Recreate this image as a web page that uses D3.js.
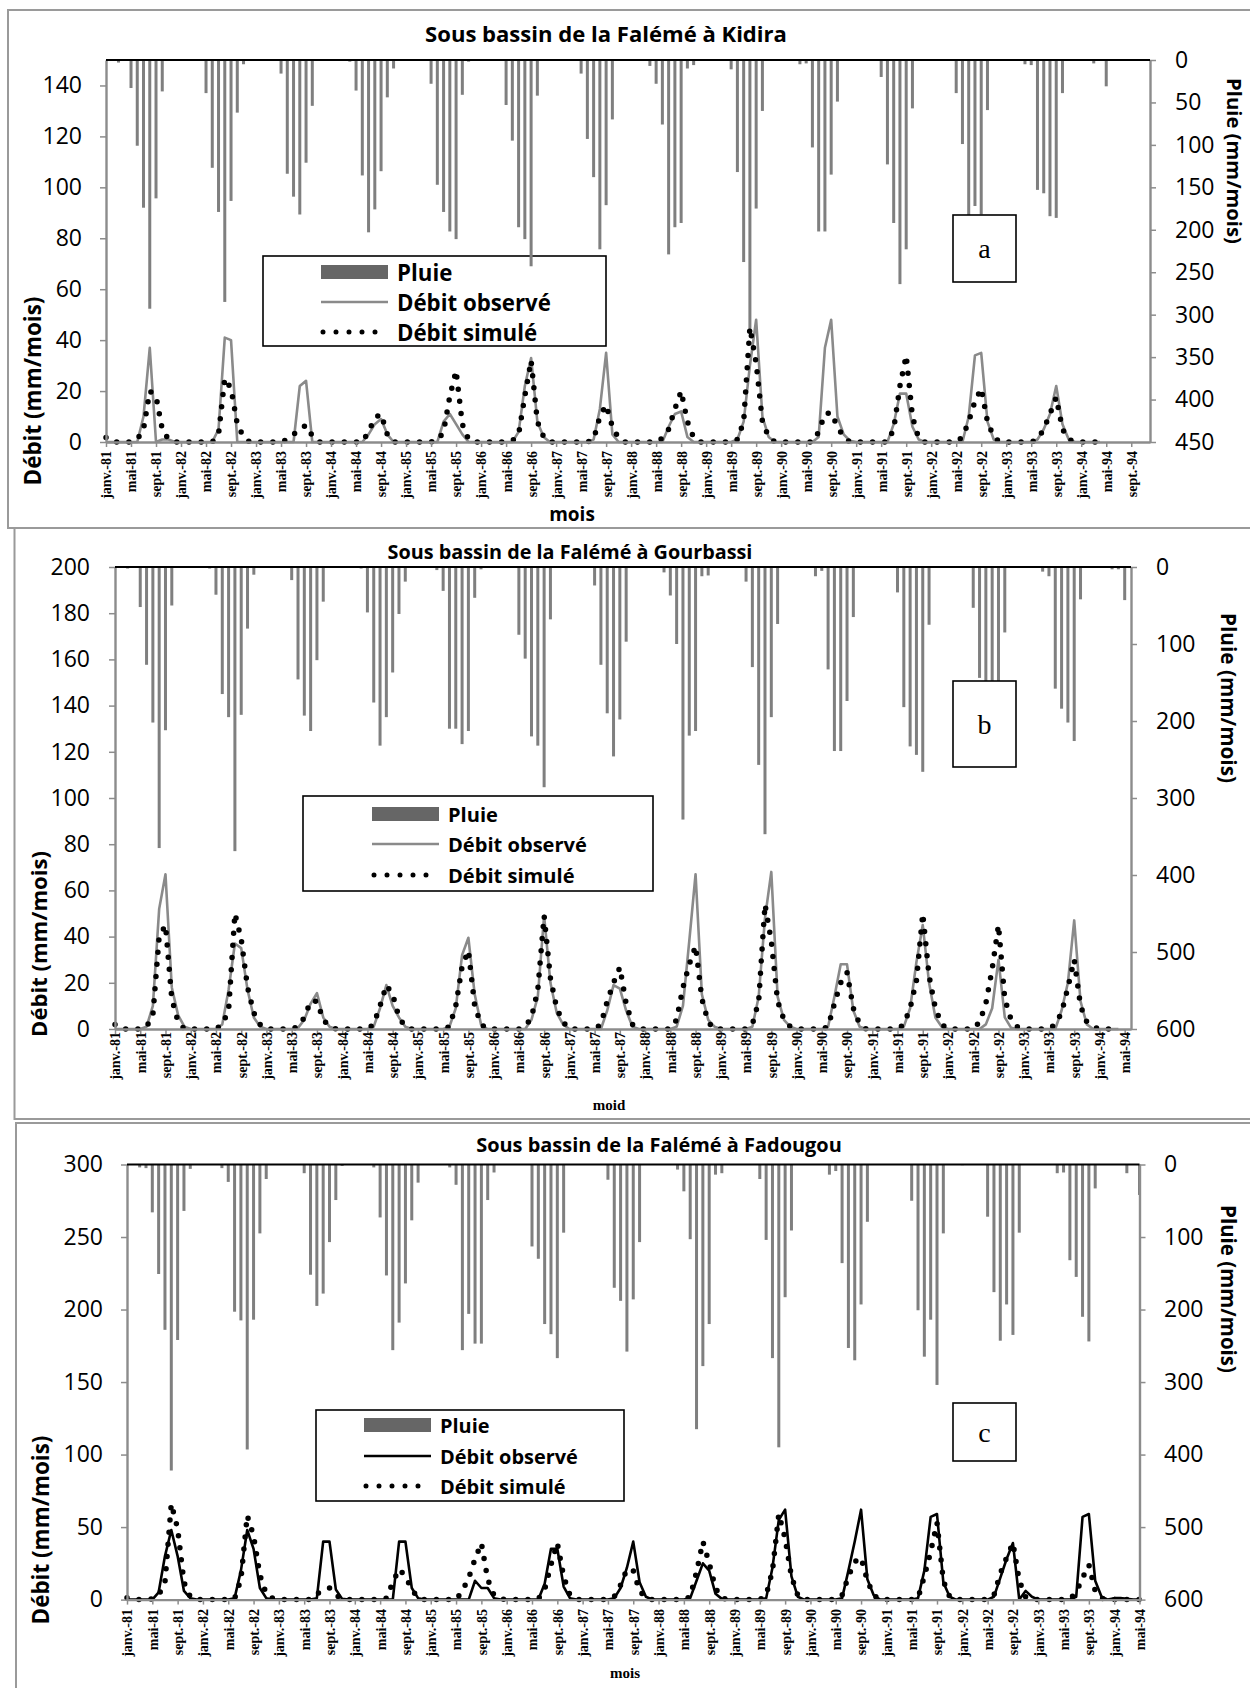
<!DOCTYPE html>
<html><head><meta charset="utf-8">
<script src="https://cdn.jsdelivr.net/npm/d3@7"></script>
<style>html,body{margin:0;padding:0;background:#fff}</style>
</head><body>
<svg id="chart" width="1250" height="1688"></svg>
<script>
// Month names used for the category labels (janv.-81, mai-81, sept.-81, ...)
const moisCourts = ["janv.","févr.","mars","avr.","mai","juin","juil.","août","sept.","oct.","nov.","déc."];
const anneeDebut = 1981;

// ---- Falémé à Kidira (mm/mois), janvier 1981 onwards ----
const kidiraPluie = [
  0,0,3,0,33,101,174,293,163,37,0,0,     // 1981
  0,0,0,1,39,127,179,285,166,62,5,0,     // 1982
  0,0,0,0,16,134,161,182,121,54,0,0,     // 1983
  0,0,0,2,36,136,203,176,131,44,10,0,    // 1984
  0,0,0,0,28,147,179,202,211,41,2,0,     // 1985
  0,0,0,0,53,95,197,211,243,42,0,0,      // 1986
  0,0,0,0,16,93,138,223,171,70,0,0,      // 1987
  0,0,0,7,28,76,229,197,192,10,6,0,      // 1988
  0,0,0,0,11,132,238,320,175,60,0,0,     // 1989
  0,0,0,5,4,103,202,202,135,49,0,0,      // 1990
  0,0,0,0,20,123,192,264,223,57,0,0,     // 1991
  0,0,0,0,39,99,215,172,182,59,0,0,      // 1992
  0,0,0,5,6,153,157,184,186,39,0,0,      // 1993
  0,0,4,0,31                             // 1994
];
const kidiraObserve = [
  0,0,0,0,0,0,10,37,0,1,1,0,
  0,0,0,0,0,0,5,41,40,0,0,0,
  0,0,0,0,0,0,0,22,24,0,0,0,
  0,0,0,0,0,0,3,7,9,3,0,0,
  0,0,0,0,0,0,8,11,7,3,0,0,
  0,0,0,0,0,0,4,22,33,8,2,0,
  0,0,0,0,0,0,1,13,35,3,0,0,
  0,0,0,0,0,0,6,11,12,2,0,0,
  0,0,0,0,0,1,8,30,48,10,2,0,
  0,0,0,0,0,0,2,37,48,10,3,0.5,
  0,0,0,0,0,0,7,19,19,6,1,0,
  0,0,0,0,0,0,10,34,35,8,1,0,
  0,0,0,0,0,1,5,11,22,7,1,0,
  0,0,0,0
];
const kidiraSimule = [
  1.8,0,0,0,0,1,5,20,18,5,1,0,
  0,0,0,0,0,0,3,25,21,7,2,0,
  0,0,0,0,0,1,3,5,6.6,2.4,0,0,
  0,0,0,0,0,0,4,9.5,11,3,0,0,
  0,0,0,0,0,0.5,4,18,28,7,1,0,
  0,0,0,0,0,0.5,3,18,32,8,2,0,
  0,0,0,0,0,0,1,10,14.5,6,1.5,0,
  0,0,0,0,0,1.5,5,13,20,8,1.7,0,
  0,0,0,0,0,1,8,45,31,8,2,0,
  0,0,0,0,0,0,4,11,11.5,6,2,0,
  0,0,0,0,0,0,5,22,34,10,1.5,0,
  0,0,0,0,0,2,8,16,21,8,2,0,
  0,0,0,0,0,1,5,11,17.5,5,1,0,
  0,0,0,0
];

// ---- Falémé à Gourbassi ----
const gourbassiPluie = [
  0,0,2,1,52,127,202,365,212,50,1,0,
  0,0,0,2,36,165,195,369,192,80,10,0,
  0,0,0,0,17,146,193,213,121,45,0,0,
  0,0,0,2,59,176,232,195,137,61,19,0,
  0,0,0,4,31,210,210,230,213,40,3,0,
  0,0,0,0,88,119,220,232,286,68,0,0,
  0,0,0,0,24,127,190,246,198,97,0,0,
  0,0,0,7,37,100,328,219,213,12,11,0,
  0,0,0,0,19,130,257,347,195,74,0,0,
  0,0,0,12,5,133,239,239,174,65,0,0,
  0,0,0,0,33,182,233,244,266,75,0,0,
  0,0,0,1,53,144,200,230,210,85,0,0,
  0,0,0,6,12,158,184,202,226,42,0,0,
  0,0,3,3,43
];
const gourbassiObserve = [
  0,0,0,0,0,1,10,52,67,18,6,1,
  0,0,0,0,0,2,17,37,35,17,5,1,
  0,0,0,0,0,0.5,4,11,15.5,5,1,0,
  0,0,0,0,0,1,9,19,10,5,1,0,
  0,0,0,0,0,1,9,32,39.5,15,2,0,
  0,0,0,0,0,0,4,14,49,20,7,2,
  0,0,0,0,0,0,8,19,17.5,8,1,0,
  0,0,0,0,0,1,10,38,67,15,4,1,
  0,0,0,0,0,1,14,48,68,14,4,1,
  0,0,0,0,0,1,14,28,28,8,1,0,
  0,0,0,0,0,1,9,29,45,20,5,1,
  0,0,0,0,0,0,2,9,30,5,0.5,0,
  0,0,0,0,0,0,8,20,47,12,2,0,
  0,0,0,0
];
const gourbassiSimule = [
  2,0,0,0,0,1,6,40,45,13,3,0,
  0,0,0,0,0,2,8,50,39,18,7,2,
  0,0,0,0,0,1,5,12,12,4,1,0,
  0,0,0,0,0,2,10,19,15,5,1,0,
  0,0,0,0,0,1,10,27,34,10,2,0,
  0,0,0,0,0,1,5,17,49,22,9,3,
  0,0,0,0,0,2,12,20,26.7,11,2,0,
  0,0,0,0,0,4,18,28,36,13,3,0,
  0,0,0,0,0,2,12,54,38,12,4,1,
  0,0,0,0,0,1,11,20,24.5,9,2,0,
  0,0,0,0,0,2,9,21,50,23,9,2,
  0,0,0,0,0,3,11,26,45,13,4,1,
  0,0,0,0,0,2,7,18,30,10,3,1,
  0,0,0,0
];

// ---- Falémé à Fadougou ----
const fadougouPluie = [
  0,0,4,5,66,151,228,422,242,64,6,0,
  0,0,0,5,24,203,215,393,214,95,20,0,
  0,0,0,0,12,152,195,178,107,49,2,0,
  0,0,0,4,73,153,256,218,164,77,25,0,
  0,0,0,4,28,256,206,247,247,49,11,0,
  0,0,0,0,113,130,220,234,267,94,0,0,
  0,0,0,0,21,170,188,258,186,107,0,0,
  0,0,0,7,37,103,365,278,220,14,12,0,
  0,0,0,0,20,104,267,390,183,91,0,0,
  0,0,0,14,9,136,253,270,193,79,0,0,
  0,0,0,0,50,201,265,214,304,95,0,0,
  1,0,0,0,72,176,243,193,235,94,0,0,
  0,0,0,12,11,132,155,210,244,33,0,0,
  0,0,12,0,42
];
const fadougouObserve = [
  0,0,0,0,0,5,30,48,30,6,1,0,
  0,0,0,0,0,1,20,48,35,8,1,0,
  0,0,0,0,0,0,1,40,40,7,0.5,0,
  0,0,0,0,0,0,0,40,40,8,1,0,
  0,0,0,0,0,0,0,13,8,8,1,0,
  0,0,0,0,0,0,11,35,35,9,1,0,
  0,0,0,0,0,1,8,22,40,12,2,0,
  0,0,0,0,0,1,13,25,20,4,0.5,0,
  0,0,0,0,0,1,22,55,62,16,2,0,
  0,0,0,0,0,1,20,40,62,14,3,0,
  0,0,0,0,0,1,20,57,59,12,2,0,
  0,0,0,0,0,2,15,28,39,0,6,2,
  0,0,0,0,0,0,2,57,59,13,2,0,
  1,1,0.5,0,0
];
const fadougouSimule = [
  1.3,0,0,0,0.5,3,12,66,49,12,2,0,
  0,0,0,0,0,0.5,14,58,44,17,4,1,
  0,0,0,0,0,0,4,6,8,3,0.5,0,
  0,0,0,0,0,1,12,21,16,7,1,0,
  0,0,0,0,0,6,15,28,39,14,3,0.5,
  0,0,0,0,0,0.5,7,24,39,16,3,0,
  0,0,0,0,0,2,10,21,20,6,1,0,
  0,0,0,0,0,2,19,40,25,8,1,0,
  0,0,0,0,0,3,20,59,42,16,3,0,
  0,0,0,0,0,3,16,26,29,13,3,0,
  0,0,0,0,0,1,16,33,53,13,2,0,
  0,0,0,0,0,3,18,29,39,13,2,0,
  0,0,0,0,0,0.5,5,15,24,6,1,0,
  0,0,0,0,0
];

const legendLabels = ["Pluie", "Débit observé", "Débit simulé"];

const SANS = "'Open Sans', Lato, sans-serif";
const SERIF = "'Liberation Serif', 'Times New Roman', serif";
const GRIS_AXE = "#8c8c8c";
const GRIS_BARRE = "#7f7f7f";

const svg = d3.select("#chart");
svg.append("rect").attr("width",1250).attr("height",1688).attr("fill","#fff");

function moisLabels(n) {
  return d3.range(n).map(i => moisCourts[i % 12] + "-" +
    String((anneeDebut + Math.floor(i / 12)) % 100).padStart(2, "0"));
}

// sets the font size so that the rendered text spans `width` pixels
function fitWidth(sel, width) {
  const w = sel.node().getComputedTextLength();
  const fs = parseFloat(sel.style("font-size"));
  const size = fs * width / w;
  sel.style("font-size", size + "px");
  return size;
}

function drawPanel(p) {
  const g = svg.append("g");
  const cats = moisLabels(p.nCats);
  const x = d3.scalePoint().domain(cats).range([p.plot.l, p.plot.r]);
  const yQ = d3.scaleLinear().domain([0, p.qMax]).range([p.plot.b, p.plot.t]);
  const yP = d3.scaleLinear().domain([0, p.pMax]).range([p.plot.t, p.plot.b]);

  // outer frame
  g.append("rect").attr("x", p.frame.x).attr("y", p.frame.y)
    .attr("width", 1270 - p.frame.x).attr("height", p.frame.h)
    .attr("fill", "none").attr("stroke", "#9a9a9a").attr("stroke-width", 2);

  // title
  const t = g.append("text").attr("x", p.title.x).attr("y", p.title.y)
    .attr("text-anchor", "middle").attr("dominant-baseline", "central")
    .style("font-family", SANS).style("font-weight", 700).style("font-size", "20px")
    .text(p.title.text);
  fitWidth(t, p.title.w);

  // legend
  const L = p.legend;
  const lg = g.append("g");
  lg.append("rect").attr("x", L.x).attr("y", L.y).attr("width", L.w).attr("height", L.h)
    .attr("fill", "#fff").attr("stroke", "#000").attr("stroke-width", 1.6);
  lg.append("rect").attr("x", L.sx).attr("y", L.rows[0] - 7).attr("width", 67).attr("height", 14)
    .attr("fill", "#666");
  lg.append("line").attr("x1", L.sx).attr("x2", L.sx + 67).attr("y1", L.rows[1]).attr("y2", L.rows[1])
    .attr("stroke", p.obsColor).attr("stroke-width", 2.6);
  lg.append("line").attr("x1", L.sx + 2).attr("x2", L.sx + 2 + 5 * 13).attr("y1", L.rows[2]).attr("y2", L.rows[2])
    .attr("stroke", "#000").attr("stroke-width", 5).attr("stroke-linecap", "round")
    .attr("stroke-dasharray", "0 13");
  const lt = lg.selectAll("text.leg").data(legendLabels).join("text").attr("class", "leg")
    .attr("x", L.tx).attr("y", (d, i) => L.rows[i]).attr("dominant-baseline", "central")
    .style("font-family", SANS).style("font-weight", 700).style("font-size", "20px")
    .text(d => d);
  const ls = fitWidth(lt.filter((d, i) => i === 1), L.textW);
  lt.style("font-size", ls + "px");

  // rain bars hanging from the top axis
  g.append("g").selectAll("rect").data(p.pluie).join("rect")
    .attr("x", (d, i) => x(cats[i]) - 1.5).attr("width", 3)
    .attr("y", yP(0)).attr("height", d => yP(d) - yP(0))
    .attr("fill", GRIS_BARRE);

  const line = d3.line().x((d, i) => x(cats[i])).y(d => yQ(d));
  g.append("path").datum(p.obs).attr("d", line).attr("fill", "none")
    .attr("stroke", p.obsColor).attr("stroke-width", 2.6).attr("stroke-linejoin", "round");
  g.append("path").datum(p.sim).attr("d", line).attr("fill", "none")
    .attr("stroke", "#000").attr("stroke-width", 5.5).attr("stroke-linecap", "round")
    .attr("stroke-dasharray", "0 12.2");

  // left axis (débit)
  const axL = g.append("g").attr("transform", `translate(${p.plot.l},0)`)
    .call(d3.axisLeft(yQ).tickValues(d3.range(0, p.qMax + 1, p.qStep)).tickSizeInner(6).tickSizeOuter(0)
      .tickPadding(p.plot.l - p.leftLabelX - 6).tickFormat(d3.format("d")));
  // right axis (pluie, reversed)
  const axR = g.append("g").attr("transform", `translate(${p.plot.r},0)`)
    .call(d3.axisRight(yP).tickValues(d3.range(0, p.pMax + 1, p.pStep)).tickSizeInner(6).tickSizeOuter(0)
      .tickPadding(p.rightLabelX - p.plot.r - 6).tickFormat(d3.format("d")));
  [axL, axR].forEach(a => {
    a.select(".domain").attr("stroke", GRIS_AXE).attr("stroke-width", 2.4);
    a.selectAll(".tick line").attr("stroke", GRIS_AXE).attr("stroke-width", 1.5);
    a.selectAll(".tick text").style("font-family", SANS).style("font-size", "23px").attr("fill", "#000");
  });

  // bottom category axis
  const shown = cats.filter((d, i) => i % 4 === 0 && i <= p.lastLabel);
  const axB = g.append("g").attr("transform", `translate(0,${p.plot.b})`)
    .call(d3.axisBottom(x).tickValues(shown).tickSizeInner(5).tickSizeOuter(0));
  axB.select(".domain").attr("stroke", GRIS_AXE).attr("stroke-width", 2.4);
  axB.selectAll(".tick line").attr("stroke", GRIS_AXE).attr("stroke-width", 1.5);
  axB.selectAll(".tick text")
    .attr("transform", "rotate(-90)").attr("x", -(p.xLabTop - p.plot.b)).attr("y", 0).attr("dy", "0.35em")
    .style("text-anchor", "end").style("font-family", SERIF).style("font-weight", 700)
    .style("font-size", "14px").attr("fill", "#000");

  // top axis line of the rain series
  g.append("line").attr("x1", p.plot.l).attr("x2", p.plot.r).attr("y1", p.plot.t).attr("y2", p.plot.t)
    .attr("stroke", "#000").attr("stroke-width", 2);

  // axis titles
  const yt = g.append("text").attr("transform", `translate(${p.yTitle.x},${p.yTitle.y}) rotate(-90)`)
    .attr("text-anchor", "middle").attr("dominant-baseline", "central")
    .style("font-family", SANS).style("font-weight", 700).style("font-size", "22px")
    .text("Débit (mm/mois)");
  fitWidth(yt, p.yTitle.w);
  const rt = g.append("text").attr("transform", `translate(${p.rTitle.x},${p.rTitle.y}) rotate(90)`)
    .attr("text-anchor", "middle").attr("dominant-baseline", "central")
    .style("font-family", SANS).style("font-weight", 700).style("font-size", "22px")
    .text("Pluie (mm/mois)");
  fitWidth(rt, p.rTitle.w);
  g.append("text").attr("x", p.xTitle.x).attr("y", p.xTitle.y)
    .attr("text-anchor", "middle").attr("dominant-baseline", "central")
    .style("font-family", p.xTitle.font).style("font-weight", 700).style("font-size", p.xTitle.size + "px")
    .text(p.xTitle.text);

  // panel letter
  const B = p.box;
  g.append("rect").attr("x", B.x).attr("y", B.y).attr("width", B.w).attr("height", B.h)
    .attr("fill", "#fff").attr("stroke", "#000").attr("stroke-width", 1.6);
  g.append("text").attr("x", B.x + B.w / 2).attr("y", B.y + B.h / 2)
    .attr("text-anchor", "middle").attr("dominant-baseline", "central")
    .style("font-family", SERIF).style("font-size", "28px").text(B.letter);
}

drawPanel({
  frame: {x: 8, y: 10, h: 518},
  title: {x: 606, y: 33, w: 362, text: "Sous bassin de la Falémé à Kidira"},
  plot: {l: 106, r: 1150, t: 60, b: 442},
  nCats: 168, lastLabel: 164,
  qMax: 150, qStep: 20, pMax: 450, pStep: 50,
  leftLabelX: 82, rightLabelX: 1175, xLabTop: 451,
  yTitle: {x: 32, y: 391, w: 189}, rTitle: {x: 1235, y: 161, w: 166},
  xTitle: {x: 572, y: 514, text: "mois", font: SANS, size: 19},
  legend: {x: 263, y: 256, w: 343, h: 90, sx: 321, tx: 397, textW: 154, rows: [272, 302, 332]},
  box: {x: 953, y: 215, w: 63, h: 67, letter: "a"},
  obsColor: "#8a8a8a",
  pluie: kidiraPluie, obs: kidiraObserve, sim: kidiraSimule
});

drawPanel({
  frame: {x: 14.5, y: 528, h: 591},
  title: {x: 570, y: 551, w: 365, text: "Sous bassin de la Falémé à Gourbassi"},
  plot: {l: 115, r: 1131, t: 567, b: 1029},
  nCats: 162, lastLabel: 160,
  qMax: 200, qStep: 20, pMax: 600, pStep: 100,
  leftLabelX: 90, rightLabelX: 1156, xLabTop: 1032,
  yTitle: {x: 38, y: 944, w: 186}, rTitle: {x: 1229, y: 698, w: 170},
  xTitle: {x: 609, y: 1105, text: "moid", font: SERIF, size: 15},
  legend: {x: 303, y: 796, w: 350, h: 95, sx: 372, tx: 448, textW: 139, rows: [814, 844, 875]},
  box: {x: 953, y: 681, w: 63, h: 86, letter: "b"},
  obsColor: "#8a8a8a",
  pluie: gourbassiPluie, obs: gourbassiObserve, sim: gourbassiSimule
});

drawPanel({
  frame: {x: 16, y: 1123, h: 580},
  title: {x: 659, y: 1144, w: 366, text: "Sous bassin de la Falémé à Fadougou"},
  plot: {l: 127, r: 1139.5, t: 1164.5, b: 1599.6},
  nCats: 161, lastLabel: 160,
  qMax: 300, qStep: 50, pMax: 600, pStep: 100,
  leftLabelX: 103, rightLabelX: 1164, xLabTop: 1609,
  yTitle: {x: 40, y: 1530, w: 189}, rTitle: {x: 1229, y: 1289, w: 168},
  xTitle: {x: 625, y: 1673, text: "mois", font: SERIF, size: 15},
  legend: {x: 316, y: 1410, w: 308, h: 91, sx: 364, tx: 440, textW: 138, rows: [1425, 1456, 1486]},
  box: {x: 953, y: 1403, w: 63, h: 58, letter: "c"},
  obsColor: "#000",
  pluie: fadougouPluie, obs: fadougouObserve, sim: fadougouSimule
});
</script>
</body></html>
